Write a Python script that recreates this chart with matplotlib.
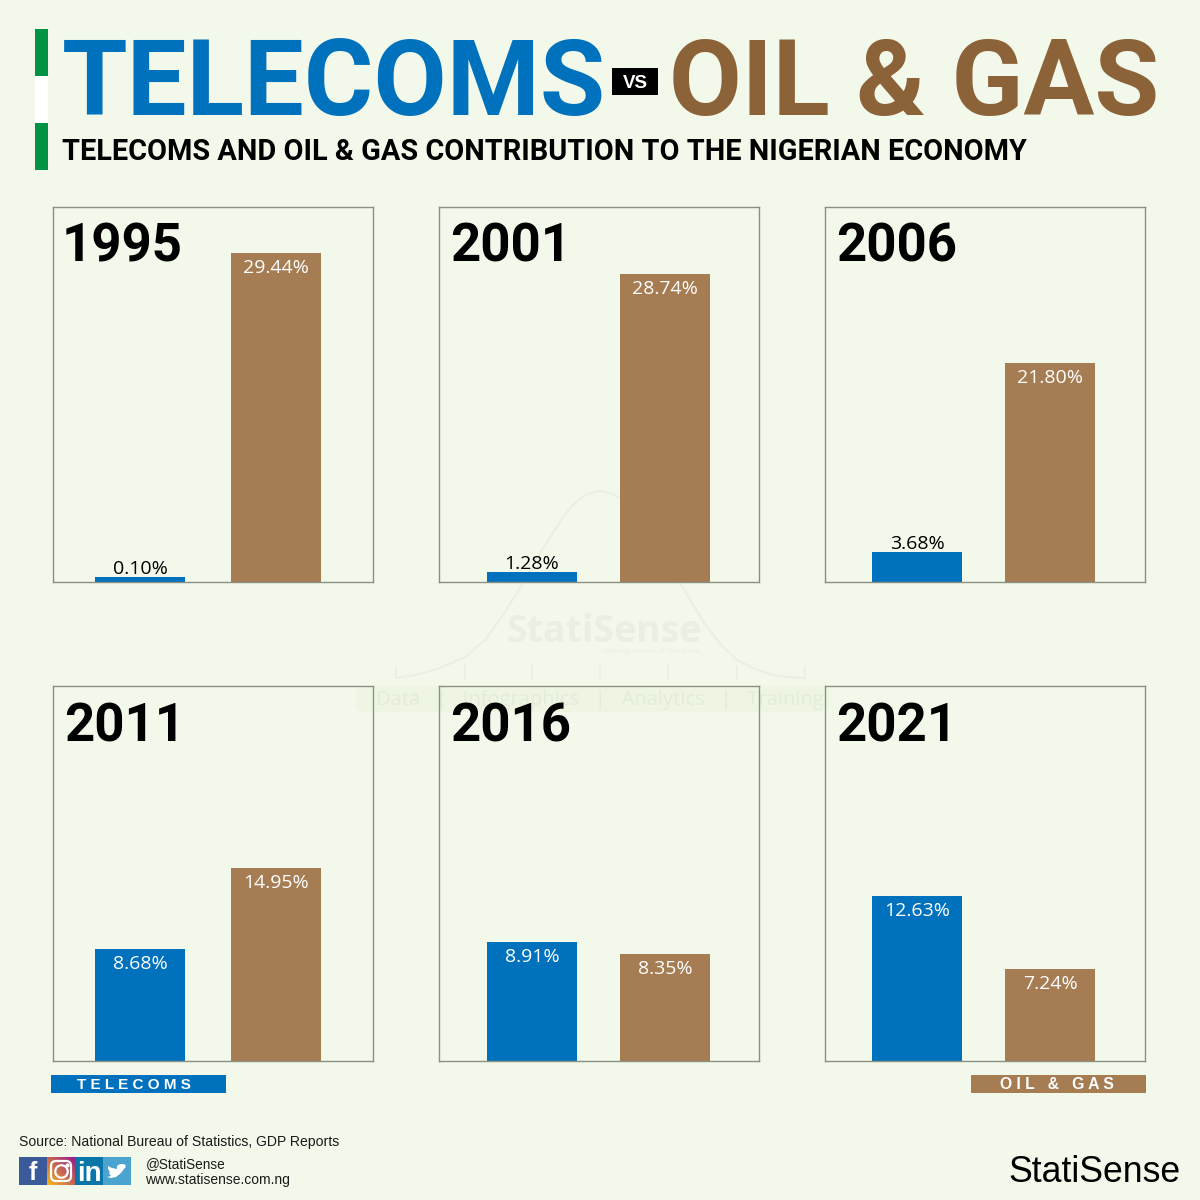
"""Telecoms vs oil & gas share of Nigerian GDP, small multiples by year."""

import matplotlib
matplotlib.use("Agg")  # headless backend
import matplotlib.pyplot as plt
import numpy as np
from matplotlib.patches import FancyBboxPatch, Polygon, Rectangle

years = ["1995", "2001", "2006", "2011", "2016", "2021"]
telecoms = [0.10, 1.28, 3.68, 8.68, 8.91, 12.63]
oil_gas = [29.44, 28.74, 21.80, 14.95, 8.35, 7.24]

# the original bars are not on one common scale, so these are the bar lengths
# (panel height = 375)
telecoms_drawn = [5, 10, 30, 112, 119, 165]
oil_gas_drawn = [329, 308, 219, 193, 107, 92]

BG = "#f2f8ea"
BLUE = "#0071bc"
BROWN = "#a67c52"
DARK_BROWN = "#8c6239"
GREEN = "#009245"
FRAME = "#8b9083"
MARK = "#e9efe1"
HEAD = ["Roboto", "DejaVu Sans"]
LABEL_FONT = ["Open Sans", "DejaVu Sans"]
SANS = ["Liberation Sans", "DejaVu Sans"]

# panel frames in picture pixels: left, top
PANEL_POS = [(53, 207), (439, 207), (825, 207), (53, 686), (439, 686), (825, 686)]
PANEL_W, PANEL_H = 320, 375
# bar centres inside each column of panels
BAR_X = [(87, 223), (93, 226), (92, 225)]
BAR_W = 90
YEAR_X = [9, 11, 11, 11, 11, 11]

# watermark bell curve
curve_x = [396, 415, 440, 465, 485, 505, 523, 540, 553, 563, 573, 581, 588, 594, 600,
           606, 612, 618, 623, 631, 640, 660, 680, 694, 707, 722, 737, 755, 773, 790, 805]
curve_y = [678, 675, 668, 657, 640, 612, 583, 553, 533, 517, 505, 498, 494, 492, 491,
           492, 494, 497, 500, 510, 522, 552, 583, 606, 627, 646, 660, 669, 675, 677, 678]
curve_ticks = [465, 532, 600, 668, 737]

# twitter bird outline inside its 28 px tile
bird_x = [5, 9, 14, 14, 17, 20, 23, 22, 23, 21, 18, 13, 8, 4, 8, 6, 7, 5]
bird_y = [9, 11, 12, 9, 7, 7, 8, 10, 10, 12, 16, 20, 21, 20, 19, 16, 15, 12]

fig = plt.figure(figsize=(12, 12), dpi=100, facecolor=BG)

# full-figure axes working in picture pixels, for everything outside the charts
page = fig.add_axes([0, 0, 1, 1], zorder=0)
page.set_xlim(0, 1200)
page.set_ylim(1200, 0)
page.axis("off")

# watermark
page.add_patch(FancyBboxPatch((356, 686), 474, 26, boxstyle="round,pad=0,rounding_size=8",
                              fc="#eef6e3", ec="none"))
page.plot(curve_x, curve_y, color=MARK, lw=1.4)
page.plot([396, 396], [667, 678], color=MARK, lw=1.2)
page.plot([805, 805], [667, 678], color=MARK, lw=1.2)
for tx in curve_ticks:
    page.plot([tx, tx], [666, 678], color=MARK, lw=1.2)
page.text(604, 642, "StatiSense", family=LABEL_FONT, weight="bold",
          fontsize=27, color=MARK, ha="center", va="baseline")
page.text(700, 653, "...making sense of numbers", family=SANS, fontsize=6, color=MARK,
          ha="right", va="baseline")
page.text(600, 705, "Data   |   Infographics   |   Analytics   |   Training",
          family=LABEL_FONT, fontsize=14.5, color="#e4ebda", ha="center", va="baseline")

# flag strip
page.add_patch(Rectangle((35, 29), 13, 47, fc=GREEN, ec="none"))
page.add_patch(Rectangle((35, 76), 13, 47, fc="white", ec="none"))
page.add_patch(Rectangle((35, 123), 13, 47, fc=GREEN, ec="none"))

# headline
page.text(62, 115, "TELECOMS", family=HEAD, weight="bold", fontsize=76.5, color=BLUE,
          ha="left", va="baseline")
page.add_patch(Rectangle((612, 68), 46, 27, fc="black", ec="none"))
page.text(635, 88, "VS", family=SANS, weight="bold", fontsize=13.5, color="white",
          ha="center", va="baseline")
page.text(669, 115, "OIL & GAS", family=HEAD, weight="bold", fontsize=76,
          color=DARK_BROWN, ha="left", va="baseline")
page.text(62, 160, "TELECOMS AND OIL & GAS CONTRIBUTION TO THE NIGERIAN ECONOMY",
          family=HEAD, weight="bold", fontsize=20.8, color="black", ha="left", va="baseline")

# panels
for i, year in enumerate(years):
    left, top = PANEL_POS[i]
    ax = fig.add_axes([left / 1200, 1 - (top + PANEL_H) / 1200, PANEL_W / 1200, PANEL_H / 1200],
                      zorder=1)
    ax.patch.set_alpha(0)
    ax.set_xlim(0, PANEL_W)
    ax.set_ylim(0, PANEL_H)
    ax.set_xticks([])
    ax.set_yticks([])
    for spine in ax.spines.values():
        spine.set_color(FRAME)
        spine.set_linewidth(1.0)

    xs = BAR_X[i % 3]
    ax.bar(xs, [telecoms_drawn[i], oil_gas_drawn[i]], width=BAR_W, color=[BLUE, BROWN])

    for x, val, h in zip(xs, (telecoms[i], oil_gas[i]), (telecoms_drawn[i], oil_gas_drawn[i])):
        label = f"{val:.2f}%"
        if h > 50:
            ax.text(x, h - 6, label, family=LABEL_FONT, fontsize=14, color="white",
                    ha="center", va="top")
        else:
            ax.text(x, h - 1, label, family=LABEL_FONT, fontsize=14, color="black",
                    ha="center", va="bottom")

    ax.text(YEAR_X[i], PANEL_H - 55, year, family=HEAD, weight="bold", fontsize=38,
            color="black", ha="left", va="baseline")

# legend strips
page.add_patch(Rectangle((51, 1075), 175, 18, fc=BLUE, ec="none"))
page.text(134, 1089, "T E L E C O M S", family=SANS, weight="bold", fontsize=11, color="white",
          ha="center", va="baseline")
page.add_patch(Rectangle((971, 1075), 175, 18, fc=BROWN, ec="none"))
page.text(1057, 1089, "O I L   &   G A S", family=SANS, weight="bold", fontsize=11.3,
          color="white", ha="center", va="baseline")

# source and social
page.text(19, 1146, "Source: National Bureau of Statistics, GDP Reports", family=SANS,
          fontsize=10.05, color="#1a1a1a", ha="left", va="baseline")
page.add_patch(Rectangle((19, 1157), 28, 28, fc="#3b5a9a", ec="none"))
page.text(33, 1180, "f", family=SANS, weight="bold", fontsize=18, color="white",
          ha="center", va="baseline")
ramp = np.linspace(0, 1, 28)
tile = np.zeros((28, 28, 3))
u, v = np.meshgrid(ramp, ramp)
mix = (u + (1 - v)) / 2
tile[..., 0] = 0.96 - 0.35 * mix
tile[..., 1] = 0.72 - 0.62 * mix
tile[..., 2] = 0.10 + 0.45 * mix
page.imshow(tile, extent=(47, 75, 1185, 1157), aspect="auto", zorder=1)
page.set_xlim(0, 1200)
page.set_ylim(1200, 0)
page.add_patch(FancyBboxPatch((51, 1161), 20, 20, boxstyle="round,pad=0,rounding_size=5",
                              fc="none", ec="white", lw=1.6, zorder=2))
page.plot([61], [1171], marker="o", ms=9, mfc="none", mec="white", mew=1.6, zorder=2)
page.plot([67], [1165], marker="o", ms=2, color="white", zorder=2)
page.add_patch(Rectangle((75, 1157), 28, 28, fc="#0a76a8", ec="none"))
page.text(89, 1181, "in", family=SANS, weight="bold", fontsize=20, color="white",
          ha="center", va="baseline")
page.add_patch(Rectangle((103, 1157), 28, 28, fc="#4ba3cf", ec="none"))
page.add_patch(Polygon(np.column_stack([103 + np.array(bird_x), 1157 + np.array(bird_y)]),
                       fc="white", ec="none"))
page.text(146, 1168, "@StatiSense", family=SANS, fontsize=9.8, color="#1a1a1a",
          ha="left", va="baseline")
page.text(145, 1184, "www.statisense.com.ng", family=SANS, fontsize=10, color="#1a1a1a",
          ha="left", va="baseline")
page.text(1181, 1182, "StatiSense", family=SANS, fontsize=25.7, color="black",
          ha="right", va="baseline")

fig.savefig("out.png", dpi=100, facecolor=BG)
plt.close(fig)
